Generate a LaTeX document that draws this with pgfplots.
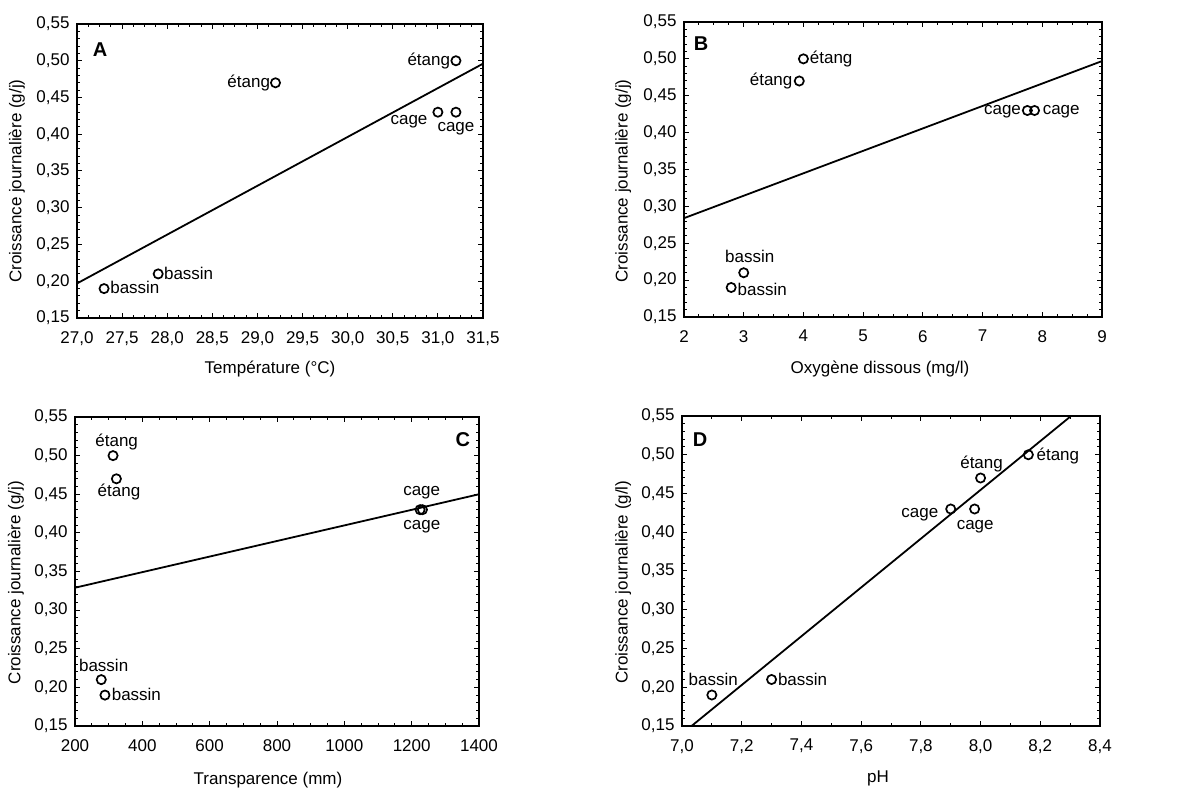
\documentclass[border=0pt]{standalone}
\usepackage{fontspec}
\setmainfont{Liberation Sans}
\usepackage{pgfplots}
\pgfplotsset{compat=1.18}

\tikzset{letter/.style={font=\fontsize{10}{12}\selectfont\bfseries}}

\pgfplotsset{
  panel/.style={
    scale only axis,
    anchor=south west,
    tick align=inside,
    axis line style={line width=1pt},
    major tick length=2.5pt, minor tick length=1.3pt,
    every tick/.style={black, line width=0.5pt},
    scaled ticks=false,
    /pgf/number format/use comma,
    /pgf/number format/1000 sep={},
    /pgf/number format/assume math mode=true,
    ymin=0.15, ymax=0.55,
    ytick={0.15,0.2,0.25,0.3,0.35,0.4,0.45,0.5,0.55},
    minor y tick num=4,
    yticklabel style={/pgf/number format/fixed, /pgf/number format/fixed zerofill,
      /pgf/number format/precision=2, xshift=-0.7pt},
    xticklabel style={yshift=-3.6pt},
    ylabel={Croissance journalière (g/j)},
  },
  pts/.style={
    only marks, mark=o, mark size=2.3pt, black,
    mark options={line width=0.85pt},
    point meta=explicit symbolic,
    nodes near coords={\pgfplotspointmeta},
    every node near coord/.append style={inner sep=0pt},
  },
  lbl/.style n args={3}{every node near coord/.append style={anchor=#1, xshift=#2, yshift=#3}},
  fit/.style={black, line width=0.9pt, no marks},
}

\begin{document}
\fontsize{8.5}{10}\selectfont
\begin{tikzpicture}
\path[use as bounding box] (0,0) rectangle (591.5pt,393.5pt);

% A
\begin{axis}[panel, at={(38.5pt,234.5pt)}, width=203pt, height=147pt,
  xmin=27, xmax=31.5, xtick={27,27.5,28,28.5,29,29.5,30,30.5,31,31.5},
  minor x tick num=3,
  xticklabel style={/pgf/number format/fixed, /pgf/number format/fixed zerofill,
    /pgf/number format/precision=1},
  xlabel={Température (°C)},
  xlabel style={at={([xshift=-5pt,yshift=-25.5pt]axis description cs:0.5,0)}, anchor=center},
  ylabel style={at={([xshift=-30pt]axis description cs:0,0.466)}, anchor=center}]
\addplot[fit] coordinates {(27,0.197) (31.5,0.496)};
\addplot[pts, lbl={base east}{-2.3pt}{-2.3pt}] coordinates {(29.2,0.47) [étang]};
\addplot[pts, lbl={base east}{-2.5pt}{-2.2pt}] coordinates {(31.2,0.50) [étang]};
\addplot[pts, lbl={base east}{-4.8pt}{-6pt}] coordinates {(31.0,0.43) [cage]};
\addplot[pts, lbl={base}{0pt}{-9.5pt}] coordinates {(31.2,0.43) [cage]};
\addplot[pts, lbl={base west}{2.7pt}{-2.7pt}] coordinates {(27.3,0.19) [bassin]};
\addplot[pts, lbl={base west}{2.5pt}{-2.7pt}] coordinates {(27.9,0.21) [bassin]};
\node[letter] at (rel axis cs:0.057,0.912) {A};
\end{axis}

% B
\begin{axis}[panel, at={(342pt,235pt)}, width=209pt, height=147.5pt,
  xmin=2, xmax=9, xtick={2,3,4,5,6,7,8,9},
  minor x tick num=3,
  xlabel={Oxygène dissous (mg/l)},
  xlabel style={at={([xshift=-6.5pt,yshift=-26pt]axis description cs:0.5,0)}, anchor=center},
  ylabel style={at={([xshift=-30.5pt]axis description cs:0,0.461)}, anchor=center}]
\addplot[fit] coordinates {(2,0.284) (9,0.497)};
\addplot[pts, lbl={base west}{2.8pt}{-2.2pt}] coordinates {(4.0,0.50) [étang]};
\addplot[pts, lbl={base east}{-3pt}{-2.2pt}] coordinates {(3.93,0.47) [étang]};
\addplot[pts, lbl={base east}{-2.8pt}{-2.2pt}] coordinates {(7.75,0.43) [cage]};
\addplot[pts, lbl={base west}{3.7pt}{-2.2pt}] coordinates {(7.87,0.43) [cage]};
\addplot[pts, lbl={base}{3pt}{5pt}] coordinates {(3.0,0.21) [bassin]};
\addplot[pts, lbl={base west}{2.8pt}{-4pt}] coordinates {(2.79,0.19) [bassin]};
\node[letter] at (rel axis cs:0.041,0.925) {B};
\end{axis}

% C
\begin{axis}[panel, at={(37.5pt,30.5pt)}, width=202pt, height=154.5pt,
  xmin=200, xmax=1400, xtick={200,400,600,800,1000,1200,1400},
  minor x tick num=3,
  xlabel={Transparence (mm)},
  xlabel style={at={([xshift=-4.5pt,yshift=-27pt]axis description cs:0.5,0)}, anchor=center},
  ylabel style={at={([xshift=-29.5pt]axis description cs:0,0.464)}, anchor=center}]
\addplot[fit] coordinates {(200,0.329) (1400,0.450)};
\addplot[pts, lbl={base}{1.8pt}{4.7pt}] coordinates {(313,0.50) [étang]};
\addplot[pts, lbl={base}{1.3pt}{-9pt}] coordinates {(323,0.47) [étang]};
\addplot[pts, lbl={base}{0.8pt}{7pt}] coordinates {(1225,0.43) [cage]};
\addplot[pts, lbl={base}{-0.3pt}{-10pt}] coordinates {(1232,0.43) [cage]};
\addplot[pts, lbl={base}{1.2pt}{4.3pt}] coordinates {(278,0.21) [bassin]};
\addplot[pts, lbl={base west}{3pt}{-2.8pt}] coordinates {(289,0.19) [bassin]};
\node[letter] at (rel axis cs:0.96,0.926) {C};
\end{axis}

% D
\begin{axis}[panel, at={(341pt,30.5pt)}, width=209pt, height=155pt,
  xmin=7, xmax=8.4, xtick={7,7.2,7.4,7.6,7.8,8,8.2,8.4},
  minor x tick num=1,
  xticklabel style={/pgf/number format/fixed, /pgf/number format/fixed zerofill,
    /pgf/number format/precision=1},
  xlabel={pH},
  ylabel={Croissance journalière (g/l)},
  xlabel style={at={([xshift=-6.5pt,yshift=-26pt]axis description cs:0.5,0)}, anchor=center},
  ylabel style={at={([xshift=-29.5pt]axis description cs:0,0.464)}, anchor=center}]
\addplot[fit] coordinates {(7.032,0.15) (8.303,0.55)};
\addplot[pts, lbl={base}{0.7pt}{4.7pt}] coordinates {(7.1,0.19) [bassin]};
\addplot[pts, lbl={base west}{2.8pt}{-2.8pt}] coordinates {(7.3,0.21) [bassin]};
\addplot[pts, lbl={base east}{-5.8pt}{-4.5pt}] coordinates {(7.9,0.43) [cage]};
\addplot[pts, lbl={base}{0.3pt}{-10.3pt}] coordinates {(7.98,0.43) [cage]};
\addplot[pts, lbl={base}{0.5pt}{4.5pt}] coordinates {(8.0,0.47) [étang]};
\addplot[pts, lbl={base west}{3.7pt}{-3pt}] coordinates {(8.16,0.50) [étang]};
\node[letter] at (rel axis cs:0.043,0.923) {D};
\end{axis}
\end{tikzpicture}
\end{document}
